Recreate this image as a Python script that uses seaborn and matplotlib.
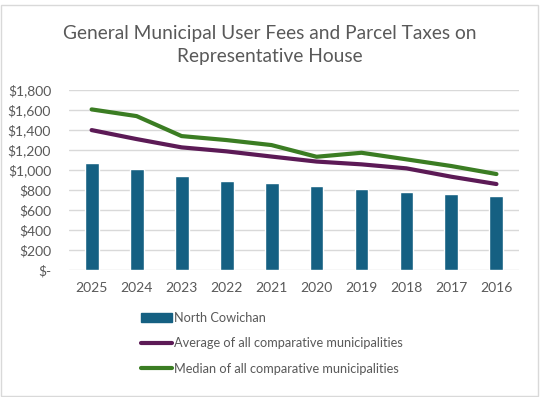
import matplotlib
matplotlib.use('Agg')
import matplotlib.pyplot as plt
import seaborn as sns
import pandas as pd
from matplotlib.patches import Patch, Rectangle
from matplotlib.lines import Line2D

years = ['2025', '2024', '2023', '2022', '2021', '2020', '2019', '2018', '2017', '2016']
north_cowichan = [1067, 1013, 943, 893, 867, 837, 807, 780, 757, 743]
average_all = [1400, 1310, 1227, 1187, 1135, 1085, 1057, 1017, 933, 860]
median_all = [1607, 1540, 1340, 1300, 1250, 1133, 1173, 1107, 1040, 960]
y_ticks = [0, 200, 400, 600, 800, 1000, 1200, 1400, 1600, 1800]
y_labels = ['$-', '$200', '$400', '$600', '$800', '$1,000', '$1,200', '$1,400', '$1,600', '$1,800']

bar_col = '#156082'
avg_col = '#5c1a56'
med_col = '#3b7d23'
txt_col = '#595959'

df = pd.DataFrame({'year': years, 'nc': north_cowichan, 'avg': average_all, 'med': median_all})

sns.set_theme(style='white')
plt.rcParams['font.family'] = ['Lato', 'DejaVu Sans']

fig = plt.figure(figsize=(5.4, 3.97), dpi=100)
ax = fig.add_axes([0.128, 0.320, 0.833, 0.453])

sns.barplot(data=df, x='year', y='nc', order=years, color=bar_col, width=0.31,
            saturation=1, ax=ax, zorder=3)
sns.pointplot(data=df, x='year', y='avg', order=years, color=avg_col, markers='',
              errorbar=None, linewidth=3, ax=ax, zorder=4)
sns.pointplot(data=df, x='year', y='med', order=years, color=med_col, markers='',
              errorbar=None, linewidth=3, ax=ax, zorder=4)

ax.set_ylim(0, 1800)
ax.set_xlim(-0.5, len(years) - 0.5)
ax.set_yticks(y_ticks)
ax.set_yticklabels(y_labels)
ax.set_xlabel('')
ax.set_ylabel('')
ax.tick_params(axis='both', length=0, labelsize=10, labelcolor=txt_col)
ax.tick_params(axis='x', pad=9)
ax.tick_params(axis='y', pad=13)
ax.grid(axis='y', color='#d9d9d9', linewidth=1, zorder=0)
ax.set_axisbelow(True)
for s in ax.spines.values():
    s.set_visible(False)

fig.text(0.5, 0.887, 'General Municipal User Fees and Parcel Taxes on\nRepresentative House',
         ha='center', va='center', fontsize=13.8, color=txt_col, linespacing=1.45)

handles = [Patch(facecolor=bar_col, edgecolor=bar_col),
           Line2D([0], [0], color=avg_col, lw=3),
           Line2D([0], [0], color=med_col, lw=3)]
labels = ['North Cowichan', 'Average of all comparative municipalities',
          'Median of all comparative municipalities']
leg = fig.legend(handles, labels, loc='upper left', bbox_to_anchor=(0.252, 0.227),
                 frameon=False, fontsize=9.2, labelspacing=1.05, handlelength=2.4,
                 handletextpad=0.15, borderaxespad=0)
for t in leg.get_texts():
    t.set_color(txt_col)

fig.patches.append(Rectangle((0.002, 0.003), 0.995, 0.984, transform=fig.transFigure,
                             fill=False, edgecolor='#d9d9d9', linewidth=1))

fig.savefig('out.png', dpi=100)
